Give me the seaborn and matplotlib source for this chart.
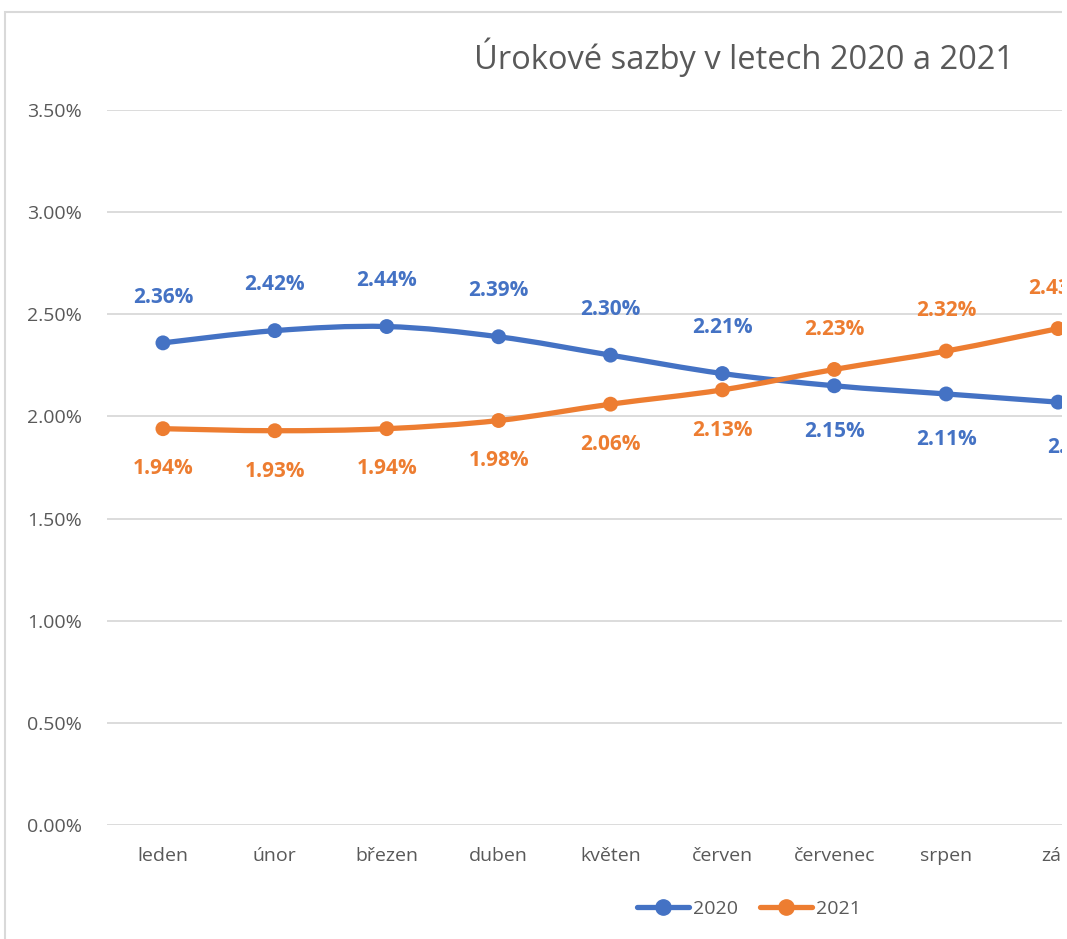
import numpy as np
import pandas as pd
import matplotlib
matplotlib.use("Agg")
import matplotlib.pyplot as plt
import seaborn as sns
from matplotlib.path import Path
from matplotlib.patches import PathPatch, Rectangle
from matplotlib.lines import Line2D
from matplotlib.ticker import FuncFormatter, MultipleLocator

months = ["leden", "únor", "březen", "duben", "květen", "červen", "červenec", "srpen", "září"]
rates_2020 = [2.36, 2.42, 2.44, 2.39, 2.30, 2.21, 2.15, 2.11, 2.07]
rates_2021 = [1.94, 1.93, 1.94, 1.98, 2.06, 2.13, 2.23, 2.32, 2.43]
series_names = ["2020", "2021"]
title = "Úrokové sazby v letech 2020 a 2021"

BLUE = "#4472C4"
ORANGE = "#ED7D31"
GRAY = "#595959"
GRID = "#D9D9D9"

sns.set_theme(style="white")
plt.rcParams["font.family"] = ["Open Sans", "DejaVu Sans"]

W, H = 1067, 939
fig = plt.figure(figsize=(W / 100, H / 100), dpi=100)

def fx(x):
    return x / W

def fy(y):
    return 1 - y / H

# chart area border (Excel style), cropped on the right and bottom
fig.patches.append(Rectangle((fx(5), fy(1000)), 1.2, fy(12) - fy(1000), transform=fig.transFigure,
                             fill=False, edgecolor=GRID, linewidth=1.5))

left, right, bottom, top = fx(107), fx(1114), fy(825), fy(110)
ax = fig.add_axes([left, bottom, right - left, top - bottom])

df = pd.DataFrame({
    "month": months * 2,
    "x": list(range(len(months))) * 2,
    "rate": np.array(rates_2020 + rates_2021) / 100.0,
    "series": [series_names[0]] * len(months) + [series_names[1]] * len(months),
})
palette = {series_names[0]: BLUE, series_names[1]: ORANGE}


def smooth_path(xs, ys, t=1 / 6):
    pts = np.column_stack([xs, ys])
    n = len(pts)
    verts = [pts[0]]
    codes = [Path.MOVETO]
    for i in range(n - 1):
        p0 = pts[i - 1] if i > 0 else pts[i]
        p1 = pts[i]
        p2 = pts[i + 1]
        p3 = pts[i + 2] if i + 2 < n else pts[i + 1]
        c1 = p1 + (p2 - p0) * t
        c2 = p2 - (p3 - p1) * t
        verts += [c1, c2, p2]
        codes += [Path.CURVE4] * 3
    return Path(verts, codes)


for name, sub in df.groupby("series"):
    path = smooth_path(sub["x"].values, sub["rate"].values)
    ax.add_patch(PathPatch(path, facecolor="none", edgecolor=palette[name], linewidth=3.8,
                           capstyle="round", joinstyle="round", zorder=3, clip_on=False))

sns.scatterplot(data=df, x="x", y="rate", hue="series", palette=palette, s=115,
                edgecolor="none", ax=ax, legend=False, zorder=4, clip_on=False)

# data labels
pos_2020 = ["above"] * 6 + ["below"] * 3
pos_2021 = ["below"] * 6 + ["above"] * 3
for si, (vals, pos, col, off) in enumerate([(rates_2020, pos_2020, BLUE, 33),
                                            (rates_2021, pos_2021, ORANGE, 29)]):
    for i, v in enumerate(vals):
        dy = off if pos[i] == "above" else -off
        dx = 14 if (si == 0 and i == len(vals) - 1) else 0
        ax.annotate(f"{v:.2f}%", (i, v / 100), xytext=(dx, dy), textcoords="offset points",
                    ha="center", va="center", color=col, fontsize=15, fontweight="bold",
                    annotation_clip=False, zorder=5)

ax.set_xlim(-0.5, len(months) - 0.5)
ax.set_ylim(0, 0.035)
ax.yaxis.set_major_locator(MultipleLocator(0.005))
ax.yaxis.set_major_formatter(FuncFormatter(lambda v, p: f"{v * 100:.2f}%"))
ax.set_xticks(range(len(months)))
ax.set_xticklabels(months)
ax.grid(axis="y", color=GRID, linewidth=1.3)
ax.grid(axis="x", visible=False)
for s in ax.spines.values():
    s.set_visible(False)
ax.tick_params(axis="both", length=0, labelsize=14, labelcolor=GRAY)
ax.tick_params(axis="y", pad=18)
ax.tick_params(axis="x", pad=16)
ax.set_xlabel("")
ax.set_ylabel("")
ax.set_facecolor("none")

fig.text(fx(744), fy(57), title, ha="center", va="center", fontsize=23.5, color=GRAY)

handles = [Line2D([0], [0], color=BLUE, lw=3.8, marker="o", markersize=11, solid_capstyle="round"),
           Line2D([0], [0], color=ORANGE, lw=3.8, marker="o", markersize=11, solid_capstyle="round")]
fig.legend(handles, series_names, loc="center", bbox_to_anchor=(fx(749), fy(909)), ncol=2,
           frameon=False, fontsize=14, labelcolor=GRAY, handlelength=2.7, handletextpad=0.2,
           columnspacing=1.1)

# right edge of the visible chart region (the original is cropped there)
fig.add_artist(Rectangle((fx(1062), 0), 1, 1, transform=fig.transFigure,
                         facecolor="white", edgecolor="none", zorder=20))

fig.savefig("out.png", dpi=100)
